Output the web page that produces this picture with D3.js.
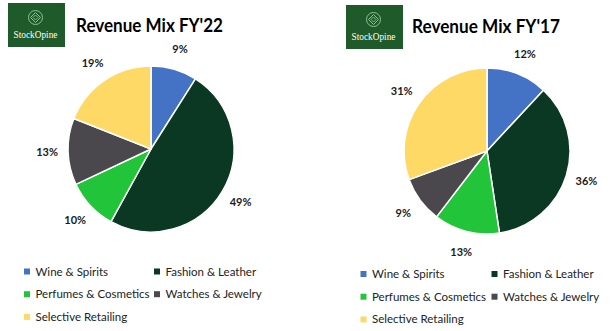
<!DOCTYPE html>
<html><head><meta charset="utf-8">
<script src="https://cdn.jsdelivr.net/npm/d3@7"></script>
<style>body{margin:0;background:#fff}svg{display:block}</style>
</head><body>
<svg id="c" width="615" height="331"></svg>
<script>
const categories = ["Wine & Spirits","Fashion & Leather","Perfumes & Cosmetics","Watches & Jewelry","Selective Retailing"];
const colors = ["#4472C4","#0A3822","#22C43A","#4A484D","#FFD966"];
const valuesFY22 = [9, 49, 10, 13, 19];
const valuesFY17 = [11.9, 35.7, 12.8, 9.0, 30.6];
const titles = ["Revenue Mix FY'22", "Revenue Mix FY'17"];

const svg = d3.select("#c");
const font = "Lato, 'Open Sans', sans-serif";

const panels = [
  {values: valuesFY22, title: titles[0], cx: 151, cy: 149, r: 83, logoX: 8, logoY: 3, titleX: 76, titleY: 32, titleW: 147, legX: 27, legY: 271.5, col2: 130},
  {values: valuesFY17, title: titles[1], cx: 487, cy: 151, r: 83, logoX: 346, logoY: 5, titleX: 412, titleY: 33, titleW: 148, legX: 363.5, legY: 274, col2: 131}
];

function logo(g, x, y) {
  const w = 57, h = 44;
  const lg = g.append("g").attr("transform", `translate(${x},${y})`);
  lg.append("rect").attr("width", w).attr("height", h).attr("fill", "#1F5A2A");
  const cx = w/2 - 1, cy = 14.5;
  lg.append("circle").attr("cx", cx).attr("cy", cy).attr("r", 7).attr("fill", "none").attr("stroke", "#8CC096").attr("stroke-width", 1);
  lg.append("path").attr("d", `M${cx},${cy-5}L${cx+5},${cy}L${cx},${cy+5}L${cx-5},${cy}Z`).attr("fill", "none").attr("stroke", "#8CC096").attr("stroke-width", 1);
  lg.append("path").attr("d", `M${cx},${cy-2.5}L${cx+2.5},${cy}L${cx},${cy+2.5}L${cx-2.5},${cy}Z`).attr("fill", "none").attr("stroke", "#8CC096").attr("stroke-width", 0.9);
  lg.append("text").attr("x", cx).attr("y", 35).attr("text-anchor", "middle")
    .attr("font-family", "'Liberation Serif', serif").attr("font-size", 9.3).attr("fill", "#fff").text("StockOpine");
}

panels.forEach(p => {
  const g = svg.append("g");
  logo(g, p.logoX, p.logoY);
  g.append("text").attr("x", p.titleX).attr("y", p.titleY)
    .attr("font-family", font).attr("font-weight", 700).attr("font-size", 19.5).attr("fill", "#000")
    .attr("textLength", p.titleW).attr("lengthAdjust", "spacingAndGlyphs").text(p.title);

  const pie = d3.pie().sort(null).value(d => d);
  const arcs = pie(p.values);
  const arc = d3.arc().innerRadius(0).outerRadius(p.r);
  const total = d3.sum(p.values);
  const pg = g.append("g").attr("transform", `translate(${p.cx},${p.cy})`);
  pg.selectAll("path").data(arcs).join("path")
    .attr("d", arc).attr("fill", (d,i) => colors[i])
    .attr("stroke", "#fff").attr("stroke-width", 1.5).attr("stroke-linejoin", "round");
  const lr = p.r + 21;
  pg.selectAll("text").data(arcs).join("text")
    .attr("x", d => Math.sin((d.startAngle+d.endAngle)/2) * lr)
    .attr("y", d => -Math.cos((d.startAngle+d.endAngle)/2) * lr)
    .attr("text-anchor", "middle").attr("dy", "0.35em")
    .attr("font-family", font).attr("font-weight", 700).attr("font-size", 11).attr("fill", "#1a1a1a")
    .text(d => Math.round(d.data / total * 100) + "%");

  const lg = g.append("g");
  categories.forEach((c, i) => {
    const col = i % 2, row = Math.floor(i / 2);
    const x = p.legX + col * p.col2, y = p.legY + row * 22.7;
    lg.append("rect").attr("x", x - 3).attr("y", y - 3).attr("width", 6).attr("height", 6).attr("fill", colors[i]);
    lg.append("text").attr("x", x + 8.5).attr("y", y).attr("dy", "0.35em")
      .attr("font-family", font).attr("font-size", 11.5).attr("fill", "#222").text(c);
  });
});
</script>
</body></html>
